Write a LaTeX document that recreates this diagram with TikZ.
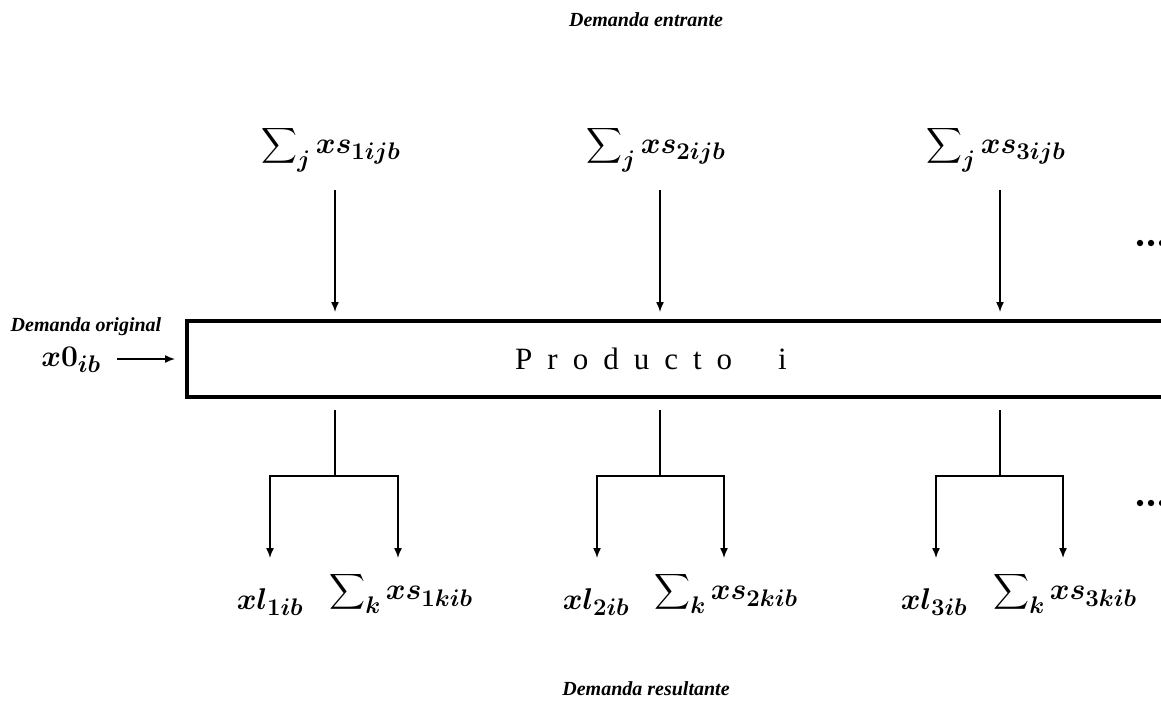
\RequirePackage{fix-cm}
\documentclass[tikz,border=0pt]{standalone}
\usepackage{fontspec}
\setmainfont{Liberation Serif}
\usepackage{amsmath,bm}
\DeclareMathSizes{30}{30}{24}{18}
\usetikzlibrary{arrows.meta}

\begin{document}
\begin{tikzpicture}[x=1pt, y=-1pt, line join=miter, >={Latex[length=10pt,width=8pt]}, font=\fontsize{30}{34}\selectfont]
	\tikzset{
		flecha/.style={->, line width=1.5pt},
		linea/.style={line width=1.5pt},
		titulo/.style={font=\fontsize{20}{24}\selectfont\bfseries\itshape},
		caja/.style={draw, line width=3.5pt}
	}
	\useasboundingbox (0,0) rectangle (1161,702);
	\clip (0,0) rectangle (1161,702);
	
	% titulos
	\node[titulo] (entrante) at (646,20) {Demanda entrante};
	\node[titulo] (resultante) at (646,689) {Demanda resultante};
	\node[titulo] (original) at (86,327) {Demanda original};
	
	% caja del producto
	\node[caja, minimum width=1100pt, minimum height=76pt, anchor=west] (caja) at (185,359) {};
	\node[font=\fontsize{31}{34}\selectfont] (prod) at (651,359) {P\hspace{15pt}r\hspace{15pt}o\hspace{15pt}d\hspace{15pt}u\hspace{15pt}c\hspace{15pt}t\hspace{15pt}o\hspace{46pt}i};
	
	% entrada original
	\node (x0) at (71,360) {$\bm{x0_{ib}}$};
	\coordinate (x0e) at (175,359);
	\draw[flecha] (117,359) -- (x0e);
	
	% demanda entrante
	\node (in1) at (331,149) {$\displaystyle\sum\nolimits_{\bm{j}}\bm{xs_{1ijb}}$};
	\node (in2) at (656,149) {$\displaystyle\sum\nolimits_{\bm{j}}\bm{xs_{2ijb}}$};
	\node (in3) at (996,149) {$\displaystyle\sum\nolimits_{\bm{j}}\bm{xs_{3ijb}}$};
	\foreach \n/\x in {1/335,2/660,3/1000}{
		\coordinate (s\n) at (\x,190);
		\coordinate (e\n) at (\x,312);
		\draw[flecha] (s\n) -- (e\n);
	}
	
	% demanda resultante
	\node (xl1) at (270,602) {$\bm{xl_{1ib}}$};
	\node (xl2) at (596,602) {$\bm{xl_{2ib}}$};
	\node (xl3) at (934,602) {$\bm{xl_{3ib}}$};
	\node (out1) at (401,593) {$\displaystyle\sum\nolimits_{\bm{k}}\bm{xs_{1kib}}$};
	\node (out2) at (726,593) {$\displaystyle\sum\nolimits_{\bm{k}}\bm{xs_{2kib}}$};
	\node (out3) at (1065,593) {$\displaystyle\sum\nolimits_{\bm{k}}\bm{xs_{3kib}}$};
	\foreach \n/\x/\l/\r in {1/335/270/398,2/660/597/724,3/1000/936/1063}{
		\coordinate (a\n) at (\x,410);
		\coordinate (sp\n) at (\x,476);
		\coordinate (el\n) at (\l,558);
		\coordinate (er\n) at (\r,558);
		\draw[linea] (a\n) -- (sp\n);
		\draw[flecha] (sp\n) -| (el\n);
		\draw[flecha] (sp\n) -| (er\n);
	}
	
	% puntos suspensivos
	\foreach \x in {1140,1151,1162}{
		\fill (\x,243) circle (3.2);
		\fill (\x,503) circle (3.2);
	}
\end{tikzpicture}
\end{document}
